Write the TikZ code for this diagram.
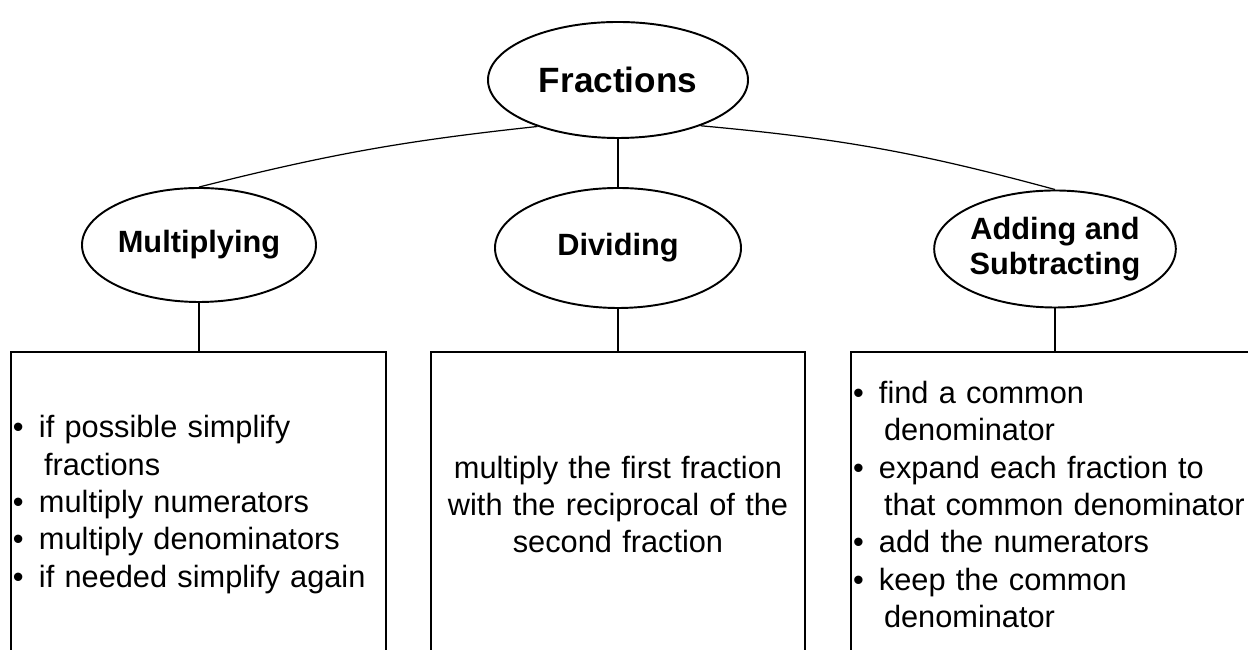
\documentclass[tikz,border=0pt]{standalone}
\usepackage{fontspec}
\setmainfont{Liberation Sans}
\usetikzlibrary{shapes.geometric}
\newcommand{\bul}{\makebox[0.52cm][l]{\textbullet}}
\newcommand{\cont}{\hspace*{0.62cm}}

\begin{document}
\begin{tikzpicture}[topic/.style={draw,ellipse,line width=1.1pt,inner sep=0pt,minimum width=4.8cm,minimum height=2.34cm,align=center,font=\fontsize{17.5}{20}\selectfont\bfseries},
infobox/.style={draw,rectangle,line width=0.9pt,inner xsep=0.04cm,inner ysep=0pt,minimum height=6.1cm,font=\fontsize{17.5}{21.3}\selectfont},
link/.style={line width=0.7pt}]
\useasboundingbox (0,0) rectangle (24.96,13);
\clip (0,0) rectangle (24.96,13);

\node[topic,minimum width=5.2cm,minimum height=2.32cm,font=\fontsize{20}{24}\selectfont\bfseries] (frac) at (12.36,11.4) {Fractions};
\node[topic,minimum width=4.68cm,minimum height=2.28cm] (mult) at (3.98,8.1) {Multiplying};
\node[topic,minimum width=4.92cm,minimum height=2.4cm] (div) at (12.36,8.04) {Dividing};
\node[topic] (add) at (21.1,8.02) {Adding and\\Subtracting};

\node[infobox,text width=7.42cm,align=left] (mbox) at (3.97,2.91)
 {\bul if possible simplify\\ \cont fractions\\ \bul multiply numerators\\ \bul multiply denominators\\ \bul if needed simplify again};
\node[infobox,text width=7.4cm,align=center] (dbox) at (12.36,2.91)
 {multiply the first fraction\\ with the reciprocal of the\\ second fraction};
\node[infobox,text width=7.92cm,align=left] (abox) at (21.02,2.91)
 {\bul find a common\\ \cont denominator\\ \bul expand each fraction to\\ \cont that common denominator\\ \bul add the numerators\\ \bul keep the common\\ \cont denominator};

\draw[link] (frac.210) to[bend right=4] (mult.north);
\draw[link] (frac.331) to[bend left=5] (add.north);
\draw[link] (frac.south) -- (div.north);
\draw[link] (mult.south) -- (mult.south |- mbox.north);
\draw[link] (div.south) -- (div.south |- dbox.north);
\draw[link] (add.south) -- (add.south |- abox.north);
\end{tikzpicture}
\end{document}
